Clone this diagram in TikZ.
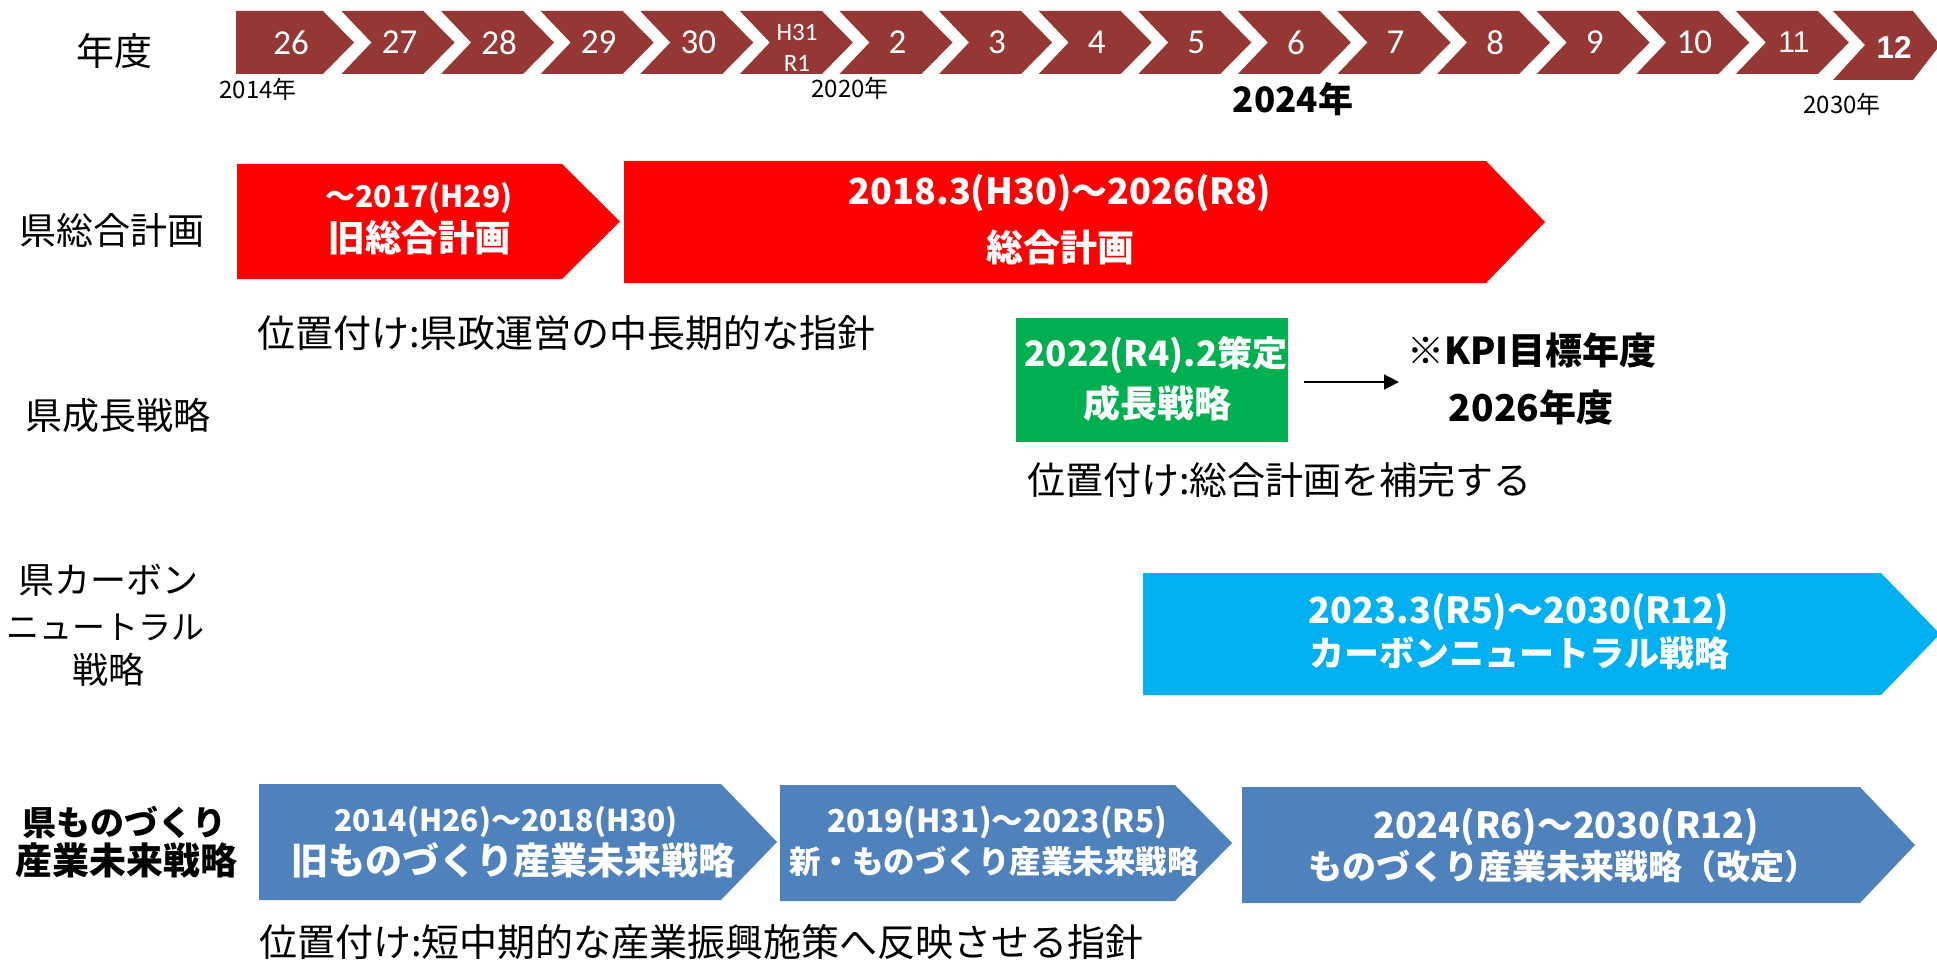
\documentclass[tikz,border=0pt]{standalone}
\usepackage{fontspec}
\setmainfont{Carlito}
\newfontfamily\jp{Noto Sans CJK JP}
\newfontfamily\ars{Liberation Sans}
\usetikzlibrary{arrows.meta}
\newcommand\fs[1]{\fontsize{#1pt}{#1pt}\selectfont}
\definecolor{yrred}{HTML}{953735}
\definecolor{pred}{HTML}{FF0000}
\definecolor{pgreen}{HTML}{00B050}
\definecolor{pcyan}{HTML}{00B0F0}
\definecolor{pblue}{HTML}{4F81BD}
\tikzset{
  yr/.style={fill=yrred},
  yrtxt/.style={text=white,inner sep=0pt,font=\fs{35}},
  yrlab/.style={inner sep=0pt,font=\jp\fs{24}},
  rowlab/.style={inner sep=0pt,font=\jp\fs{37}},
  wt/.style={text=white,inner sep=0pt},
  note/.style={inner sep=0pt,anchor=west,font=\jp\fs{38}},
  arr/.style={-{Triangle[length=15pt,width=15pt]},line width=2pt}
}
\begin{document}
\begin{tikzpicture}[x=1pt,y=-1pt]
\useasboundingbox (0,0) rectangle (1937,960);
% ---- year header
\node[inner sep=0pt,font=\jp\fs{38}] (nendo) at (114,51) {年度};
\fill[yr] (236,11) -- (323,11) -- (354,42.5) -- (323,74) -- (236,74) -- cycle;
\node[yrtxt] (y0) at (291,42.5) {26};
\foreach \k/\lab in {1/27,2/28,3/29,4/30,6/2,7/3,8/4,9/5,10/6,11/7,12/8,13/9,14/10}{
  \pgfmathsetmacro\xo{341.5+99.6*(\k-1)}
  \fill[yr] (\xo,11) -- ++(82,0) -- ++(31,31.5) -- ++(-31,31.5) -- ++(-82,0) -- ++(30,-31.5) -- cycle;
  \node[yrtxt] (y\k) at (\xo+58,42.5) {\lab};
}
% H31/R1
\fill[yr] (739.9,11) -- ++(82,0) -- ++(31,31.5) -- ++(-31,31.5) -- ++(-82,0) -- ++(30,-31.5) -- cycle;
\node[wt,font=\fs{25}] (y5a) at (797,32) {H31};
\node[wt,font=\fs{25}] (y5b) at (797,63) {R1};
% 11
\fill[yr] (1735.9,11) -- ++(82,0) -- ++(31,31.5) -- ++(-31,31.5) -- ++(-82,0) -- ++(30,-31.5) -- cycle;
\node[wt,font=\ars\fs{30}] (y15) at (1794,42.5) {11};
% 12
\fill[yr] (1833,11) -- (1913,11) -- (1940,45) -- (1913,80) -- (1833,80) -- (1865,45) -- cycle;
\node[wt,font=\ars\bfseries\fs{31.5}] (y16) at (1894,48) {12};
% year labels
\node[yrlab] (a2014) at (258,89) {2014年};
\node[yrlab] (a2020) at (850,88) {2020年};
\node[inner sep=0pt,font=\jp\bfseries\fs{35}] (a2024) at (1293,99) {2024年};
\node[yrlab] (a2030) at (1842,104) {2030年};
% ---- row 1 : 総合計画
\node[rowlab] (r1) at (112,230) {県総合計画};
\fill[pred] (237,164) -- (562,164) -- (620,221.5) -- (562,279) -- (237,279) -- cycle;
\node[wt,font=\jp\bfseries\fs{30}] (b1a) at (419,198) {～2017(H29)};
\node[wt,font=\jp\bfseries\fs{36.5}] (b1b) at (420,238) {旧総合計画};
\fill[pred] (624,161) -- (1486,161) -- (1545,222) -- (1486,283) -- (624,283) -- cycle;
\node[wt,font=\jp\bfseries\fs{36}] (b2a) at (1060,193) {2018.3(H30)～2026(R8)};
\node[wt,font=\jp\bfseries\fs{37}] (b2b) at (1060,247) {総合計画};
\node[note] (n1) at (257,333) {位置付け:県政運営の中長期的な指針};
% ---- row 2 : 成長戦略
\node[rowlab] (r2) at (118,415) {県成長戦略};
\node[fill=pgreen,minimum width=272pt,minimum height=124pt,inner sep=0pt] (grn) at (1152,380) {};
\node[wt,font=\jp\bfseries\fs{35}] (g1) at (1156,355) {2022(R4).2策定};
\node[wt,font=\jp\bfseries\fs{37}] (g2) at (1157,403) {成長戦略};
\node[inner sep=0pt,font=\jp\bfseries\fs{37}] (kpi1) at (1532,350) {※KPI目標年度};
\node[inner sep=0pt,font=\jp\bfseries\fs{37}] (kpi2) at (1531,407) {2026年度};
\coordinate (arrEnd) at (1399,382);
\draw[arr] ([xshift=16pt]grn.east |- arrEnd) -- (arrEnd);
\node[note] (n2) at (1027,480) {位置付け:総合計画を補完する};
% ---- row 3 : カーボンニュートラル
\node[inner sep=0pt,font=\jp\fs{36}] (r3a) at (108,580) {県カーボン};
\node[inner sep=0pt,font=\jp\fs{33}] (r3b) at (105,627) {ニュートラル};
\node[inner sep=0pt,font=\jp\fs{36}] (r3c) at (108,670) {戦略};
\fill[pcyan] (1143,573) -- (1881,573) -- (1940,634) -- (1881,695) -- (1143,695) -- cycle;
\node[wt,font=\jp\bfseries\fs{36}] (c1) at (1519,612) {2023.3(R5)～2030(R12)};
\node[wt,font=\jp\bfseries\fs{35}] (c2) at (1519,653) {カーボンニュートラル戦略};
% ---- row 4 : ものづくり
\node[inner sep=0pt,font=\jp\bfseries\fs{34}] (r4a) at (124,822) {県ものづくり};
\node[inner sep=0pt,font=\jp\bfseries\fs{37}] (r4b) at (126,860) {産業未来戦略};
\fill[pblue] (259,784) -- (721,784) -- (777,842) -- (721,900) -- (259,900) -- cycle;
\node[wt,font=\jp\bfseries\fs{30}] (m1a) at (506,822) {2014(H26)～2018(H30)};
\node[wt,font=\jp\bfseries\fs{37}] (m1b) at (513,860) {旧ものづくり産業未来戦略};
\fill[pblue] (780,785) -- (1175,785) -- (1232,843) -- (1175,901) -- (780,901) -- cycle;
\node[wt,font=\jp\bfseries\fs{31.5}] (m2a) at (997,822) {2019(H31)～2023(R5)};
\node[wt,font=\jp\bfseries\fs{31.5}] (m2b) at (994,861) {新・ものづくり産業未来戦略};
\fill[pblue] (1242,787) -- (1860,787) -- (1915,845) -- (1860,903) -- (1242,903) -- cycle;
\node[wt,font=\jp\bfseries\fs{36}] (m3a) at (1566,827) {2024(R6)～2030(R12)};
\node[wt,font=\jp\bfseries\fs{34}] (m3b) at (1563,867) {ものづくり産業未来戦略（改定）};
\node[note] (n3) at (259,942) {位置付け:短中期的な産業振興施策へ反映させる指針};
\end{tikzpicture}
\end{document}
